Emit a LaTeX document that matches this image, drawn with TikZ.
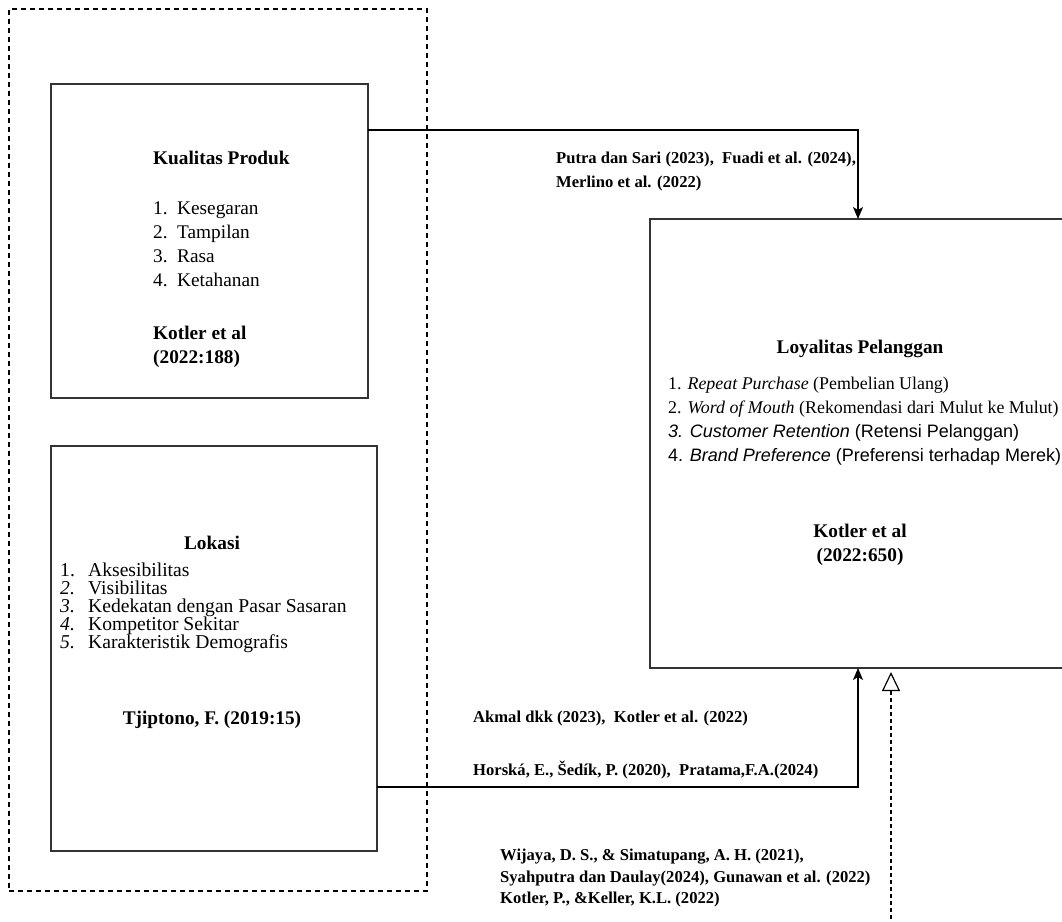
\documentclass[tikz,border=0pt]{standalone}
\usepackage{fontspec}
\setmainfont{Liberation Serif}
\newfontfamily\arialf{Liberation Sans}
\usetikzlibrary{arrows.meta}
\begin{document}
\begin{tikzpicture}[x=1pt,y=-1pt,
  box/.style={draw=black!80, line width=1.4pt, inner sep=0pt, outer sep=0pt, anchor=north west},
  grp/.style={draw=black, line width=1.1pt, dash pattern=on 5pt off 4pt, inner sep=0pt, outer sep=0pt, anchor=north west},
  conn/.style={draw=black, line width=1.3pt},
  dconn/.style={draw=black, line width=1.1pt, dash pattern=on 4pt off 3pt},
  solidtip/.style={-{Stealth[length=12pt,width=10pt,inset=3pt]}},
  opentip/.style={-{Triangle[open,length=19pt,width=18pt,line width=1.2pt]}},
  lbl/.style={font=\fontsize{16.6}{20}\selectfont\bfseries, anchor=base west, inner sep=0pt},
  txt/.style={font=\fontsize{19.3}{23}\selectfont, anchor=base west, inner sep=0pt},
  ltxt/.style={font=\fontsize{19.6}{23}\selectfont, anchor=base west, inner sep=0pt},
  ytxt/.style={font=\fontsize{17.9}{22}\selectfont, anchor=base west, inner sep=0pt},
  btxt/.style={font=\fontsize{19.3}{23}\selectfont\bfseries, anchor=base west, inner sep=0pt},
  ctitle/.style={font=\fontsize{19.3}{23}\selectfont\bfseries, anchor=base, inner sep=0pt},
  atxt/.style={font=\fontsize{18}{22}\selectfont\arialf, anchor=base west, inner sep=0pt}]
\useasboundingbox (0,0) rectangle (1062,921);
\clip (0,0) rectangle (1062,921);
\fill[white] (0,0) rectangle (1062,921);

% group and boxes
\node[grp, minimum width=418pt, minimum height=882pt] (grp) at (9,9) {};
\node[box, minimum width=317pt, minimum height=314pt] (kp) at (51,84) {};
\node[box, minimum width=326pt, minimum height=405pt] (lok) at (51,446) {};
\node[box, minimum width=430pt, minimum height=449pt] (loy) at (650,219) {};

% Kualitas Produk
\node[btxt] (kpT) at (153,164.5) {Kualitas Produk};
\node[txt] (kp1n) at (153,214.5) {1.};
\node[txt] (kp1) at (177,214.5) {Kesegaran};
\node[txt] (kp2n) at (153,238.5) {2.};
\node[txt] (kp2) at (177,238.5) {Tampilan};
\node[txt] (kp3n) at (153,262.5) {3.};
\node[txt] (kp3) at (177,262.5) {Rasa};
\node[txt] (kp4n) at (153,286.5) {4.};
\node[txt] (kp4) at (177,286.5) {Ketahanan};
\node[btxt] (kpS1) at (153,339.5) {Kotler et al};
\node[btxt] (kpS2) at (153,363.5) {(2022:188)};

% Lokasi
\node[ctitle] (lokT) at (212,549.5) {Lokasi};
\node[ltxt] (lk1n) at (60,576.5) {1.};
\node[ltxt] (lk1) at (88,576.5) {Aksesibilitas};
\node[ltxt] (lk2n) at (60,594.5) {\textit{2.}};
\node[ltxt] (lk2) at (88,594.5) {Visibilitas};
\node[ltxt] (lk3n) at (60,612.5) {\textit{3.}};
\node[ltxt] (lk3) at (88,612.5) {Kedekatan dengan Pasar Sasaran};
\node[ltxt] (lk4n) at (60,630.5) {\textit{4.}};
\node[ltxt] (lk4) at (88,630.5) {Kompetitor Sekitar};
\node[ltxt] (lk5n) at (60,648.5) {\textit{5.}};
\node[ltxt] (lk5) at (88,648.5) {Karakteristik Demografis};
\node[ctitle] (lokS) at (212,724.5) {Tjiptono, F. (2019:15)};

% Loyalitas Pelanggan
\node[ctitle] (loyT) at (860,353.5) {Loyalitas Pelanggan};
\node[ytxt] (ly1) at (668,389.5) {1. \textit{Repeat Purchase} (Pembelian Ulang)};
\node[ytxt] (ly2) at (668,413.5) {2. \textit{Word of Mouth} (Rekomendasi dari Mulut ke Mulut)};
\node[atxt] (ly3) at (668,437) {\textit{3. Customer Retention} (Retensi Pelanggan)};
\node[atxt] (ly4) at (668,461) {4. \textit{Brand Preference} (Preferensi terhadap Merek)};
\node[ctitle] (loyS1) at (860,537.5) {Kotler et al};
\node[ctitle] (loyS2) at (860,561.5) {(2022:650)};

% connector labels
\node[lbl] (la1) at (556,163.5) {Putra dan Sari (2023),\ \ Fuadi et al. (2024),};
\node[lbl] (la2) at (556,187.5) {Merlino et al. (2022)};
\node[lbl] (lb1) at (473,722.5) {Akmal dkk (2023),\ \ Kotler et al. (2022)};
\node[lbl] (lb2) at (473,775.5) {Horská, E., Šedík, P. (2020),\ \ Pratama,F.A.(2024)};
\node[lbl] (lc1) at (500,860.5) {Wijaya, D. S., \& Simatupang, A. H. (2021),};
\node[lbl] (lc2) at (500,882.5) {Syahputra dan Daulay(2024), Gunawan et al. (2022)};
\node[lbl] (lc3) at (500,903.5) {Kotler, P., \&Keller, K.L. (2022)};

% connectors
\coordinate (s1) at ([yshift=-46pt]kp.north east);
\coordinate (t1) at ([xshift=208pt]loy.north west);
\draw[conn, solidtip] (s1) -| (t1);
\coordinate (s2) at ([yshift=-341pt]lok.north east);
\coordinate (t2) at ([xshift=208pt]loy.south west);
\draw[conn, solidtip] (s2) -| (t2);
\coordinate (s3) at (891,940);
\coordinate (t3) at ([xshift=241pt,yshift=-4pt]loy.south west);
\draw[dconn, opentip] (s3) -- (t3);
\end{tikzpicture}
\end{document}
